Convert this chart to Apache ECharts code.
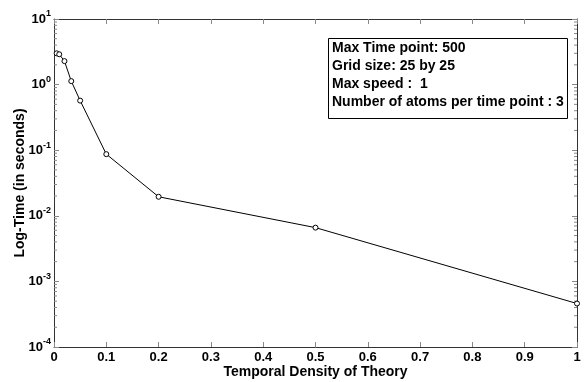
<!DOCTYPE html>
<html>
<head>
<meta charset="utf-8">
<script src="https://cdn.jsdelivr.net/npm/echarts@6/dist/echarts.min.js"></script>
<style>
  html, body { margin: 0; padding: 0; background: #fff; }
  #chart { width: 584px; height: 382px; }
</style>
</head>
<body>
<div id="chart"></div>
<script>
// density of theory vs run time (seconds)
const density = [0.005, 0.01, 0.02, 0.033, 0.05, 0.1, 0.2, 0.5, 1.0];
const logTime = [3.0, 2.9, 2.28, 1.13, 0.57, 0.087, 0.0195, 0.0066, 0.00046];
const xTicks = [0, 0.1, 0.2, 0.3, 0.4, 0.5, 0.6, 0.7, 0.8, 0.9, 1];
const infoLines = [
  "Max Time point: 500",
  "Grid size: 25 by 25",
  "Max speed :  1",
  "Number of atoms per time point : 3"
];

// minor log ticks 2..9 in each decade
const minorTicks = [];
for (let e = -4; e < 1; e++) {
  for (let k = 2; k <= 9; k++) minorTicks.push(k * Math.pow(10, e));
}

const font = "Liberation Sans, Arial, sans-serif";
const axisColor = "#333";
const tickColor = "#888";

const chart = echarts.init(document.getElementById("chart"));

const xBase = {
  type: "value",
  min: 0,
  max: 1,
  interval: 0.1,
  splitLine: { show: false },
  axisLine: { show: true, onZero: false, lineStyle: { color: axisColor } },
  axisTick: { inside: true, length: 5, lineStyle: { color: tickColor } }
};
const yBase = {
  type: "log",
  logBase: 10,
  min: 1e-4,
  max: 10,
  interval: 1,
  splitLine: { show: false },
  axisLine: { show: true, onZero: false, lineStyle: { color: axisColor } },
  axisTick: { inside: true, length: 5, lineStyle: { color: tickColor } }
};

chart.setOption({
  animation: false,
  grid: { left: 54, right: 7, top: 19, bottom: 35, containLabel: false, outerBoundsMode: "none" },
  xAxis: [
    Object.assign({}, xBase, {
      position: "bottom",
      name: "Temporal Density of Theory",
      nameLocation: "middle",
      nameGap: 18,
      nameMoveOverlap: false,
      nameTextStyle: { fontFamily: font, fontWeight: "bold", fontSize: 14, color: "#000" },
      axisLabel: {
        margin: 4,
        fontFamily: font, fontWeight: "bold", fontSize: 13, color: "#000",
        formatter: v => String(Math.round(v * 10) / 10)
      }
    }),
    Object.assign({}, xBase, { position: "top", axisLabel: { show: false } })
  ],
  yAxis: [
    Object.assign({}, yBase, {
      position: "left",
      name: "Log-Time (in seconds)",
      nameLocation: "middle",
      nameGap: 27,
      nameMoveOverlap: false,
      nameRotate: 90,
      nameTextStyle: { fontFamily: font, fontWeight: "bold", fontSize: 14, color: "#000" },
      axisLabel: {
        margin: 3,
        formatter: v => "{b|10}{s|" + Math.round(Math.log10(v)) + "}",
        rich: {
          b: { fontFamily: font, fontWeight: "bold", fontSize: 13, color: "#000" },
          s: { fontFamily: font, fontWeight: "bold", fontSize: 9, color: "#000", verticalAlign: "top", padding: [0, 0, 10, 0] }
        }
      }
    }),
    Object.assign({}, yBase, { position: "right", axisLabel: { show: false } })
  ],
  series: [
    {
      type: "line",
      data: density.map((d, i) => [d, logTime[i]]),
      symbol: "circle",
      symbolSize: 5,
      showSymbol: true,
      itemStyle: { color: "#fff", borderColor: "#000", borderWidth: 1 },
      lineStyle: { color: "#000", width: 1 },
      z: 5
    },
    {
      type: "custom",
      data: minorTicks.map(v => [0, v]),
      silent: true,
      clip: false,
      renderItem: (params, api) => {
        const v = api.value(1);
        const l = api.coord([0, v]);
        const r = api.coord([1, v]);
        const style = { stroke: tickColor, lineWidth: 1 };
        return {
          type: "group",
          children: [
            { type: "line", shape: { x1: l[0], y1: l[1], x2: l[0] + 3, y2: l[1] }, style: style },
            { type: "line", shape: { x1: r[0], y1: r[1], x2: r[0] - 3, y2: r[1] }, style: style }
          ]
        };
      }
    }
  ],
  graphic: [
    {
      type: "rect",
      left: 328,
      top: 38,
      shape: { width: 239, height: 80 },
      style: { fill: "#fff", stroke: "#000", lineWidth: 1 },
      z: 10
    },
    {
      type: "text",
      left: 332,
      top: 39,
      style: {
        text: infoLines.join("\n"),
        fontFamily: font,
        fontWeight: "bold",
        fontSize: 14,
        lineHeight: 18,
        fill: "#000"
      },
      z: 11
    }
  ]
});
</script>
</body>
</html>
